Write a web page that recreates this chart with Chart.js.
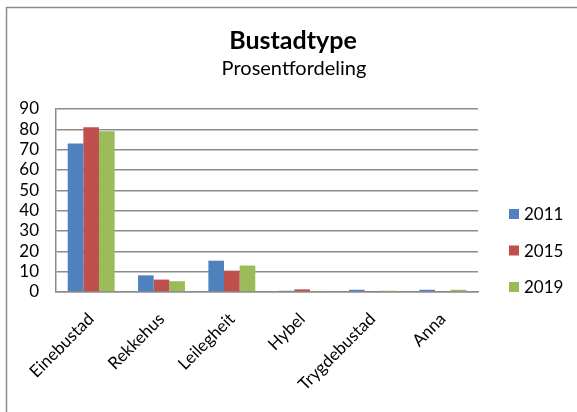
<!DOCTYPE html>
<html>
<head>
<meta charset="utf-8">
<script src="https://cdn.jsdelivr.net/npm/chart.js@4/dist/chart.umd.min.js"></script>
<style>
html,body{margin:0;padding:0;background:#fff;}
#wrap{width:577px;height:412px;position:relative;}
</style>
</head>
<body>
<div id="wrap"><canvas id="c" width="577" height="412"></canvas></div>
<script>
const categories = ["Einebustad", "Rekkehus", "Leilegheit", "Hybel", "Trygdebustad", "Anna"];
const seriesNames = ["2011", "2015", "2019"];
const values2011 = [73, 8.2, 15.4, 0.6, 1.1, 1.1];
const values2015 = [81, 6.1, 10.5, 1.3, 0.5, 0.4];
const values2019 = [79, 5.3, 13.0, 0.3, 0.6, 1.1];
const yTicks = [0, 10, 20, 30, 40, 50, 60, 70, 80, 90];
const colors = ["#4F81BD", "#C0504D", "#9BBB59"];
const titleText = "Bustadtype";
const subtitleText = "Prosentfordeling";
const FONT = "Lato, 'Open Sans', sans-serif";

const frame = {
  id: 'frame',
  beforeDraw(chart) {
    const ctx = chart.ctx;
    ctx.save();
    ctx.fillStyle = '#fff';
    ctx.fillRect(0, 0, chart.width, chart.height);
    ctx.strokeStyle = '#8c8c8c';
    ctx.lineWidth = 1.5;
    ctx.strokeRect(6.5, 7.5, chart.width + 20, chart.height + 20);
    ctx.restore();
  }
};

const titles = {
  id: 'titles',
  afterDraw(chart) {
    const ctx = chart.ctx;
    ctx.save();
    ctx.fillStyle = '#000';
    ctx.textAlign = 'center';
    ctx.textBaseline = 'middle';
    ctx.font = "bold 25px " + FONT;
    ctx.fillText(titleText, 293, 41);
    ctx.font = "20px " + FONT;
    ctx.fillText(subtitleText, 294, 69);
    ctx.restore();
  }
};

const customLegend = {
  id: 'customLegend',
  afterDraw(chart) {
    const ctx = chart.ctx;
    ctx.save();
    ctx.font = "17px " + FONT;
    ctx.textBaseline = 'middle';
    ctx.textAlign = 'left';
    const x = chart.chartArea.right + 31;
    const y0 = 214, step = 36.5;
    chart.data.datasets.forEach((ds, i) => {
      const y = y0 + i * step;
      ctx.fillStyle = ds.backgroundColor;
      ctx.fillRect(x, y - 5, 10, 10);
      ctx.fillStyle = '#000';
      ctx.fillText(ds.label, x + 15, y + 1);
    });
    ctx.restore();
  }
};

const seriesValues = [values2011, values2015, values2019];
new Chart(document.getElementById('c'), {
  type: 'bar',
  data: {
    labels: categories,
    datasets: seriesNames.map((n, i) => ({
      label: n,
      data: seriesValues[i],
      backgroundColor: colors[i],
      borderWidth: 0,
      barPercentage: 1,
      categoryPercentage: 0.667
    }))
  },
  options: {
    responsive: false,
    animation: false,
    devicePixelRatio: 1,
    layout: { padding: { top: 109, right: 99, left: 8, bottom: 0 } },
    plugins: {
      legend: { display: false },
      tooltip: { enabled: false },
      title: { display: false },
      subtitle: { display: false }
    },
    scales: {
      x: {
        grid: { display: false, drawTicks: false },
        border: { display: true, color: '#8c8c8c', width: 1.5 },
        ticks: {
          color: '#000',
          font: { family: FONT, size: 17 },
          maxRotation: 45, minRotation: 45,
          padding: 17,
          autoSkip: false
        },
        afterFit(scale) { scale.height = 120; }
      },
      y: {
        min: 0, max: 90,
        afterBuildTicks(scale) { scale.ticks = yTicks.map(v => ({ value: v })); },
        grid: { color: '#8c8c8c', lineWidth: 1.5, drawTicks: false },
        border: { display: true, color: '#8c8c8c', width: 1.5 },
        ticks: {
          color: '#000',
          font: { family: FONT, size: 17 },
          padding: 17,
          autoSkip: false
        },
        afterFit(scale) { scale.width = 48; }
      }
    }
  },
  plugins: [frame, titles, customLegend]
});
</script>
</body>
</html>
